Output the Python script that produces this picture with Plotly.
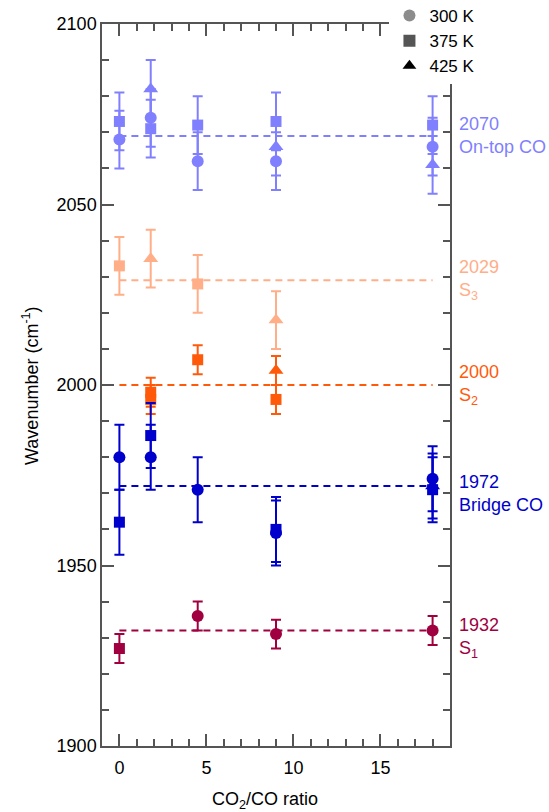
import plotly.graph_objects as go

# ---------------- data ----------------
x_ratio = [0, 1.8, 4.5, 9, 18]

# On-top CO band
ontop_300 = [2068, 2074, 2062, 2062, 2066]
ontop_375 = [2073, 2071, 2072, 2073, 2072]
ontop_425 = [None, 2082, None, 2066, 2061]
ontop_err = 8

# S3 band
s3_375 = [2033, None, 2028, None, None]
s3_425 = [None, 2035, None, 2018, None]
s3_err = 8

# S2 band
s2_375 = [None, 1998, 2007, 1996, None]
s2_375_b = [None, 1996, None, None, None]
s2_425 = [None, None, None, 2004, None]
s2_err = 4

# Bridge CO band
bridge_300 = [1980, 1980, 1971, 1959, 1974]
bridge_375 = [1962, 1986, None, 1960, 1971]
bridge_425 = [None, None, None, None, 1972]
bridge_err = 9

# S1 band
s1_300 = [None, None, 1936, 1931, 1932]
s1_375 = [1927, None, None, None, None]
s1_err = 4

band_names = ["On-top CO", "S<sub>3</sub>", "S<sub>2</sub>", "Bridge CO", "S<sub>1</sub>"]
band_values = [2069, 2029, 2000, 1972, 1932]
band_labels = ["2070", "2029", "2000", "1972", "1932"]
band_label_y = [2069, 2029, 2000, 1970, 1930]
band_colors = ["#8080ff", "#ffae88", "#ff5a0a", "#0000cc", "#a0003f"]

temps = ["300 K", "375 K", "425 K"]
temp_symbols = ["circle", "square", "triangle-up"]
temp_colors = ["#8c8c8c", "#555555", "#000000"]

sym = {"300": "circle", "375": "square", "425": "triangle-up"}
msize = {"300": 12, "375": 11, "425": 13}

series = [
    (ontop_375, ontop_err, "375", 0),
    (ontop_300, ontop_err, "300", 0),
    (ontop_425, ontop_err, "425", 0),
    (s3_375, s3_err, "375", 1),
    (s3_425, s3_err, "425", 1),
    (s2_375, s2_err, "375", 2),
    (s2_375_b, s2_err, "375", 2),
    (s2_425, s2_err, "425", 2),
    (bridge_375, bridge_err, "375", 3),
    (bridge_300, bridge_err, "300", 3),
    (bridge_425, bridge_err, "425", 3),
    (s1_300, s1_err, "300", 4),
    (s1_375, s1_err, "375", 4),
]

FONT = "Liberation Sans, Arial, sans-serif"

fig = go.Figure()

# dashed band lines
for val, col in zip(band_values, band_colors):
    fig.add_trace(go.Scatter(
        x=[x_ratio[0], x_ratio[-1]], y=[val, val], mode="lines",
        line=dict(color=col, width=2, dash="7px,5px"),
        showlegend=False, hoverinfo="skip"))

for vals, err, t, bi in series:
    xs = [x for x, v in zip(x_ratio, vals) if v is not None]
    ys = [v for v in vals if v is not None]
    col = band_colors[bi]
    fig.add_trace(go.Scatter(
        x=xs, y=ys, mode="markers",
        marker=dict(symbol=sym[t], size=msize[t], color=col, line=dict(width=0)),
        error_y=dict(type="constant", value=err, color=col, thickness=2, width=5),
        showlegend=False))

# legend entries
for name, s, c in zip(temps, temp_symbols, temp_colors):
    fig.add_trace(go.Scatter(
        x=[None], y=[None], mode="markers", name=name,
        marker=dict(symbol=s, size=12, color=c)))

# right side band labels
for lab, name, yv, col in zip(band_labels, band_names, band_label_y, band_colors):
    fig.add_annotation(
        x=1.02, xref="paper", y=yv, yref="y", xanchor="left", yanchor="middle",
        text=lab + "<br>" + name, showarrow=False, align="left",
        font=dict(size=18, color=col, family=FONT))

# axis titles
fig.add_annotation(
    x=-0.207, xref="paper", y=0.5, yref="paper", textangle=-90,
    text="Wavenumber (cm<sup>-1</sup>)", showarrow=False,
    xanchor="center", yanchor="middle",
    font=dict(size=18, color="#000", family=FONT))
fig.add_annotation(
    x=0.468, xref="paper", y=-0.075, yref="paper",
    text="CO<sub>2</sub>/CO ratio", showarrow=False,
    xanchor="center", yanchor="middle",
    font=dict(size=18, color="#000", family=FONT))

axis_common = dict(
    showline=True, linecolor="#555555", linewidth=1.5, mirror="ticks",
    ticks="inside", tickcolor="#555555", tickwidth=1.5, ticklen=12,
    showgrid=False, zeroline=False,
    tickfont=dict(size=18, color="#000", family=FONT),
)

fig.update_layout(
    width=549, height=812,
    margin=dict(l=102, r=99, t=24, b=66, autoexpand=False),
    paper_bgcolor="white", plot_bgcolor="white",
    font=dict(family=FONT, size=18, color="#000"),
    xaxis=dict(range=[-1, 19], tick0=0, dtick=5, ticklabelstandoff=5,
               minor=dict(dtick=1, ticks="inside", ticklen=7, tickcolor="#555555", tickwidth=1.5),
               **axis_common),
    yaxis=dict(range=[1900, 2100], tick0=1900, dtick=50,
               minor=dict(dtick=10, ticks="inside", ticklen=7, tickcolor="#555555", tickwidth=1.5),
               **axis_common),
    legend=dict(x=0.826, y=1.036, xanchor="left", yanchor="top",
                bgcolor="white", borderwidth=0,
                font=dict(size=17, color="#000", family=FONT),
                tracegroupgap=0, itemwidth=30),
)

fig.write_html("out.html", post_script="document.body.style.margin='0';",
               config={"displayModeBar": False})
